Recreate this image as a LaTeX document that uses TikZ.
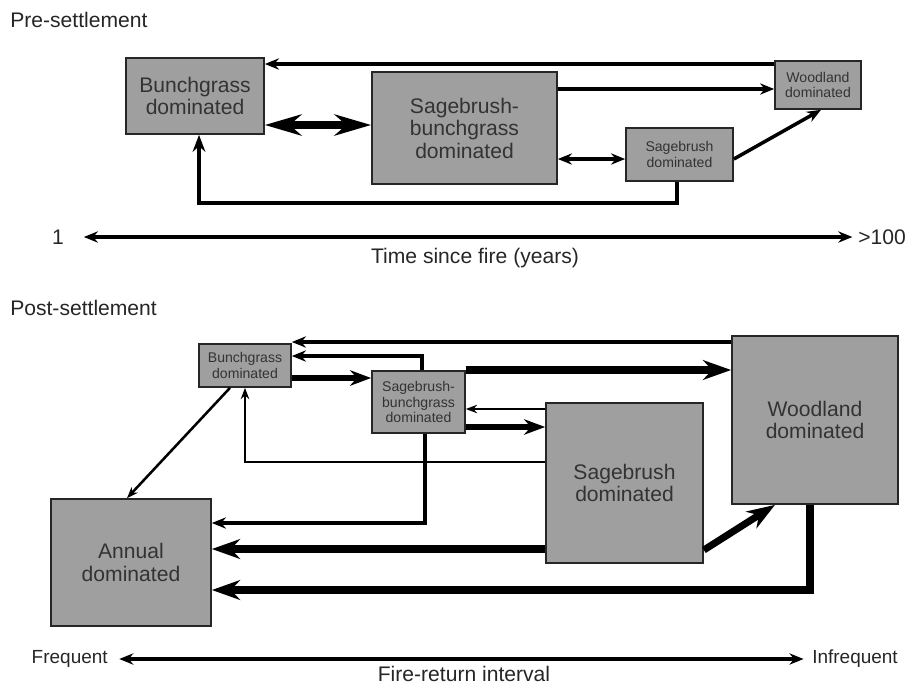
\documentclass[tikz,border=0pt]{standalone}
\usepackage{fontspec}
\setmainfont{Liberation Sans}
\usetikzlibrary{arrows.meta}

\begin{document}
\begin{tikzpicture}[x=0.025cm, y=-0.025cm,
    box/.style={draw=black!85, line width=1.2pt, fill=gray!75, text=black!80, align=center, inner sep=1pt},
    bigtxt/.style={font=\fontsize{15}{16}\selectfont},
    smalltxt/.style={font=\fontsize{10}{11}\selectfont},
    lbl/.style={text=black!85, inner sep=0pt},
    lnthin/.style={line width=1.5pt, -{Stealth[length=8pt,width=6pt]}},
    lnmed/.style={line width=2.5pt, -{Stealth[length=10pt,width=8pt]}},
    lnthick/.style={line width=3.6pt, -{Stealth[length=15pt,width=11pt]}},
    lnheavy/.style={line width=5pt, -{Stealth[length=20pt,width=14pt]}}]
    \useasboundingbox (0,0) rectangle (907,686);

    % Pre-settlement
    \node[lbl, bigtxt, anchor=base west] (pretitle) at (10,27) {Pre-settlement};
    \node[box, bigtxt, minimum width=3.45cm, minimum height=1.9cm] (bgA) at (195,96) {Bunchgrass\\dominated};
    \node[box, bigtxt, minimum width=4.625cm, minimum height=2.8cm] (sbgA) at (464.5,128) {Sagebrush-\\bunchgrass\\dominated};
    \node[box, smalltxt, minimum width=2.15cm, minimum height=1.2cm] (wdA) at (818,85) {Woodland\\dominated};
    \node[box, smalltxt, minimum width=2.675cm, minimum height=1.325cm] (sgA) at (679.5,154.5) {Sagebrush\\dominated};

    \draw[lnmed] (wdA.west |- 0,64) -- (bgA.east |- 0,64);
    \draw[lnheavy, {Stealth[length=26pt,width=15pt]}-{Stealth[length=26pt,width=15pt]}] (bgA.east |- 0,125) -- (sbgA.west |- 0,125);
    \draw[lnmed] (sbgA.east |- 0,89) -- (wdA.west |- 0,89);
    \draw[lnmed, {Stealth[length=10pt,width=8pt]}-{Stealth[length=10pt,width=8pt]}] (sbgA.east |- 0,159) -- (sgA.west |- 0,159);
    \draw[lnmed] (sgA.east |- 0,159) -- (821,0 |- wdA.south);
    \draw[lnmed, -{Stealth[length=12pt,width=9pt]}] (677,0 |- sgA.south) -- (677,203) -- (199,203) -- (199,0 |- bgA.south);

    % time axis
    \node[lbl, bigtxt] (t1) at (58,237) {1};
    \node[lbl, bigtxt, anchor=west] (t100) at (858,237) {>100};
    \draw[line width=2.5pt, {Stealth[length=10pt,width=8pt]}-{Stealth[length=10pt,width=8pt]}] ([xshift=14pt]t1.east) -- ([xshift=-4pt]t100.west);
    \node[lbl, bigtxt, anchor=base] (tlbl) at (475,263) {Time since fire (years)};

    % Post-settlement
    \node[lbl, bigtxt, anchor=base west] (posttitle) at (10,315) {Post-settlement};
    \node[box, smalltxt, minimum width=2.3cm, minimum height=1.075cm] (bgB) at (245,365.5) {Bunchgrass\\dominated};
    \node[box, smalltxt, minimum width=2.325cm, minimum height=1.55cm] (sbgB) at (418.5,402) {Sagebrush-\\bunchgrass\\dominated};
    \node[box, bigtxt, minimum width=3.925cm, minimum height=4cm] (sgB) at (624.5,483) {Sagebrush\\dominated};
    \node[box, bigtxt, minimum width=4.15cm, minimum height=4.2cm] (wdB) at (815,420) {Woodland\\dominated};
    \node[box, bigtxt, minimum width=4cm, minimum height=3.175cm] (anB) at (131,562.5) {Annual\\dominated};

    \draw[lnmed] (wdB.west |- 0,342) -- (bgB.east |- 0,342);
    \draw[lnmed] (422,0 |- sbgB.north) -- (422,356) -- (bgB.east |- 0,356);
    \draw[lnthick] (bgB.east |- 0,378) -- (sbgB.west |- 0,378);
    \draw[lnheavy] (sbgB.east |- 0,370) -- (wdB.west |- 0,370);
    \draw[lnthin] (sgB.west |- 0,409) -- (sbgB.east |- 0,409);
    \draw[lnthick] (sbgB.east |- 0,427) -- (sgB.west |- 0,427);
    \draw[lnthin] (sgB.west |- 0,462) -- (245,462) -- (bgB.south);
    \draw[lnmed] (425,0 |- sbgB.south) -- (425,523) -- (anB.east |- 0,523);
    \draw[lnthin, line width=1.8pt] (230,0 |- bgB.south) -- (127,0 |- anB.north);
    \draw[lnheavy] (sgB.west |- 0,549) -- (anB.east |- 0,549);
    \draw[lnheavy] (sgB.east |- 0,550) -- (775,0 |- wdB.south);
    \draw[lnheavy] (810,0 |- wdB.south) -- (810,590) -- (anB.east |- 0,590);

    % fire-return axis
    \node[lbl, font=\fontsize{13.5}{15}\selectfont, anchor=east] (freq) at (108,659) {Frequent};
    \node[lbl, font=\fontsize{13.5}{15}\selectfont, anchor=west] (infreq) at (812,659) {Infrequent};
    \draw[line width=2.5pt, {Stealth[length=10pt,width=8pt]}-{Stealth[length=10pt,width=8pt]}] ([xshift=8pt]freq.east) -- ([xshift=-6pt]infreq.west);
    \node[lbl, bigtxt, anchor=base] (frlbl) at (464,681) {Fire-return interval};
\end{tikzpicture}
\end{document}
